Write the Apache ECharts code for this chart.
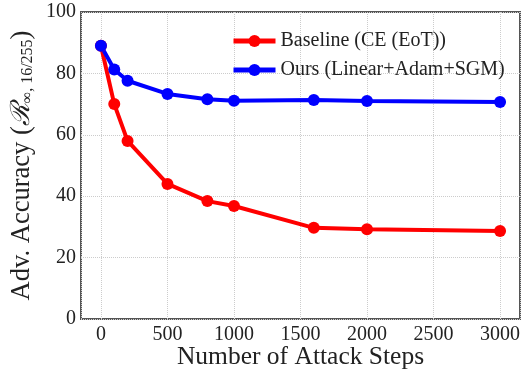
<!DOCTYPE html>
<html>
<head>
  <meta charset="UTF-8">
  <title>attack steps</title>
  <style>
    html, body { margin: 0; padding: 0; width: 100%; height: 100%; background: #fff; }
    #main { width: 526px; height: 371px; }
  </style>
  <script src="https://cdn.jsdelivr.net/npm/echarts@6/dist/echarts.min.js"></script>
</head>
<body>
<div id="main"></div>
<script>
  var steps = [0, 100, 200, 500, 800, 1000, 1600, 2000, 3000];
  var baseline = [89, 70, 58, 44, 38.4, 36.8, 29.7, 29.2, 28.7];
  var ours = [89, 81.3, 77.6, 73.3, 71.6, 71.1, 71.3, 71, 70.7];
  var xTicks = [0, 500, 1000, 1500, 2000, 2500, 3000];

  var serif = 'Liberation Serif';
  var chart = echarts.init(document.getElementById('main'));

  function pairs(vals) {
    return steps.map(function (s, i) { return [s, vals[i]]; });
  }

  var option = {
    animation: false,
    textStyle: { fontFamily: serif },
    grid: {
      left: 81, right: 6, top: 12, bottom: 52,
      outerBoundsMode: 'none', containLabel: false,
      show: true, borderColor: '#555', borderWidth: 2
    },
    legend: {
      orient: 'vertical',
      left: 226, top: 26,
      itemWidth: 42, itemHeight: 15, itemGap: 9,
      lineStyle: { width: 5 },
      textStyle: { fontFamily: serif, fontSize: 20, color: '#222' },
      data: ['Baseline (CE (EoT))', 'Ours (Linear+Adam+SGM)']
    },
    xAxis: {
      type: 'value', min: -150, max: 3150,
      name: 'Number of Attack Steps', nameLocation: 'middle', nameGap: 25,
      nameMoveOverlap: false,
      nameTextStyle: { fontFamily: serif, fontSize: 25.5, color: '#222' },
      axisLine: { show: false }, axisTick: { show: false },
      axisLabel: {
        fontFamily: serif, fontSize: 20, color: '#222', margin: 6,
        customValues: xTicks,
        formatter: function (v) { return String(v); }
      },
      splitLine: { show: true, lineStyle: { type: 'dotted', color: '#ccc' } }
    },
    yAxis: {
      type: 'value', min: 0, max: 100, interval: 20,
      name: '{t|Adv. Accuracy (}{r|ℛ}{s|∞, 16/255}{t|)}',
      nameLocation: 'middle', nameGap: 45, nameRotate: 90,
      nameMoveOverlap: false,
      nameTextStyle: {
        rich: {
          t: { fontFamily: serif, fontSize: 26.5, color: '#222' },
          r: { fontFamily: serif, fontSize: 26.5, color: '#222', fontStyle: 'italic' },
          s: { fontFamily: serif, fontSize: 16, color: '#222', padding: [12, 0, 0, 0] }
        }
      },
      axisLine: { show: false }, axisTick: { show: false },
      axisLabel: { fontFamily: serif, fontSize: 20, color: '#222', margin: 5 },
      splitLine: { show: true, lineStyle: { type: 'dotted', color: '#ccc' } }
    },
    series: [
      {
        name: 'Baseline (CE (EoT))', type: 'line',
        data: pairs(baseline),
        symbol: 'circle', symbolSize: 12,
        lineStyle: { width: 4, color: '#ff0000' },
        itemStyle: { color: '#ff0000' }
      },
      {
        name: 'Ours (Linear+Adam+SGM)', type: 'line',
        data: pairs(ours),
        symbol: 'circle', symbolSize: 12,
        lineStyle: { width: 4, color: '#0000ff' },
        itemStyle: { color: '#0000ff' }
      }
    ]
  };
  chart.setOption(option);
</script>
</body>
</html>
